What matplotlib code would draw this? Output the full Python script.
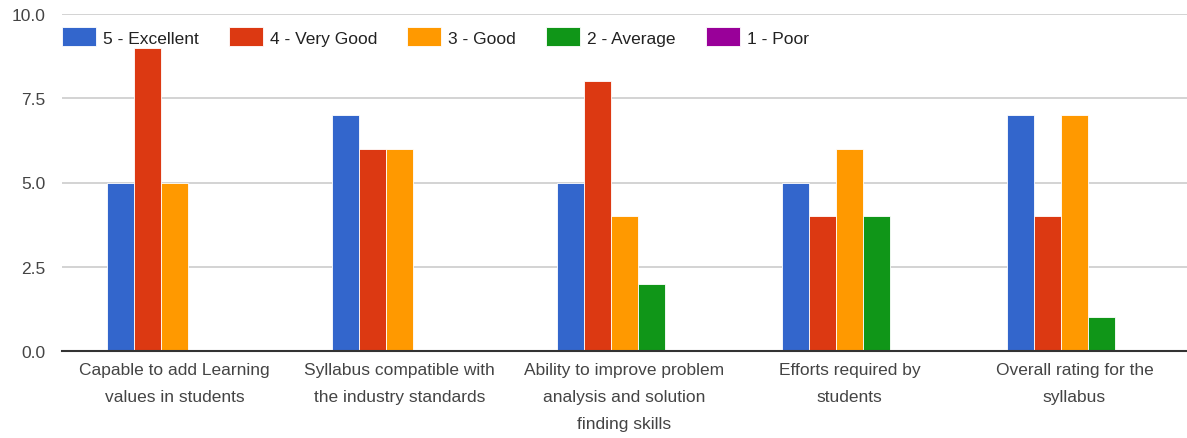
import numpy as np
import matplotlib.pyplot as plt

plt.rcParams['font.family'] = ['Liberation Sans', 'DejaVu Sans']

categories = ['Capable to add Learning\nvalues in students',
              'Syllabus compatible with\nthe industry standards',
              'Ability to improve problem\nanalysis and solution\nfinding skills',
              'Efforts required by\nstudents',
              'Overall rating for the\nsyllabus']
series_names = ['5 - Excellent', '4 - Very Good', '3 - Good', '2 - Average', '1 - Poor']
excellent = [5, 7, 5, 5, 7]
very_good = [9, 6, 8, 4, 4]
good = [5, 6, 4, 6, 7]
average = [0, 0, 2, 4, 1]
poor = [0, 0, 0, 0, 0]
colors = ['#3366cc', '#dc3912', '#ff9900', '#109618', '#990099']

values = [excellent, very_good, good, average, poor]

fig = plt.figure(figsize=(11.87, 4.39), dpi=100)
ax = fig.add_axes([62/1187, 1-352/439, 1-62/1187, (352-15)/439])

x = np.arange(len(categories))
w = 0.12
for i, (name, vals) in enumerate(zip(series_names, values)):
    ax.bar(x + (i - 2) * w, vals, width=w, color=colors[i], label=name,
           edgecolor='#ffffff', linewidth=0.6, zorder=3)

ax.set_xlim(-0.5, len(categories) - 0.5)
ax.set_ylim(0, 10)
ax.set_yticks([0, 2.5, 5, 7.5, 10])
ax.set_yticklabels(['0.0', '2.5', '5.0', '7.5', '10.0'])
ax.set_xticks(x)
ax.set_xticklabels(categories, linespacing=2.0)
ax.tick_params(length=0, labelsize=12.5, colors='#444444', pad=8)
ax.tick_params(axis='y', pad=12, labelsize=12.5)
ax.grid(axis='y', color='#cccccc', linewidth=1.2, zorder=0)
for s in ['top', 'right', 'left']:
    ax.spines[s].set_visible(False)
ax.spines['bottom'].set_color('#333333')
ax.spines['bottom'].set_linewidth(1.5)
ax.spines['bottom'].set_zorder(4)

leg = ax.legend(loc='center left', bbox_to_anchor=(0, 0.932), ncol=5, frameon=False,
                fontsize=12.5, handlelength=1.95, handleheight=1.3, handletextpad=0.4,
                columnspacing=1.75, borderaxespad=0, borderpad=0)
for t in leg.get_texts():
    t.set_color('#222222')

fig.savefig('out.png', dpi=100)
